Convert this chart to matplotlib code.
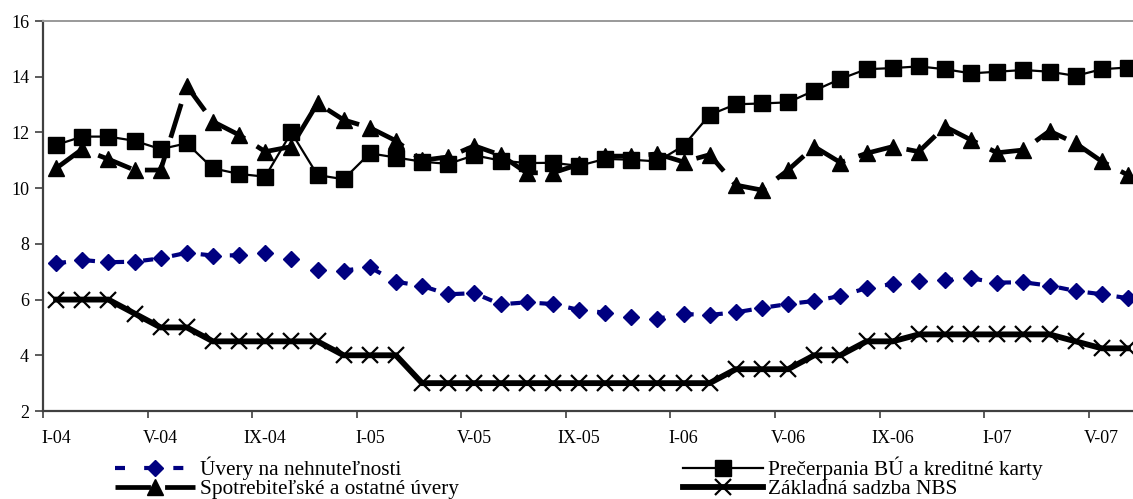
import matplotlib
matplotlib.use("Agg")
import matplotlib.pyplot as plt
from matplotlib.ticker import FixedLocator, NullFormatter, FixedFormatter

# Monthly categories I-04 .. VI-07
roman = ["I", "II", "III", "IV", "V", "VI", "VII", "VIII", "IX", "X", "XI", "XII"]
categories = [f"{roman[m]}-{y:02d}" for y in (4, 5, 6, 7) for m in range(12)][:42]
tick_labels = ["I-04", "V-04", "IX-04", "I-05", "V-05", "IX-05",
               "I-06", "V-06", "IX-06", "I-07", "V-07"]

uvery = [7.30, 7.42, 7.34, 7.36, 7.48, 7.68, 7.58, 7.59, 7.68, 7.46, 7.06, 7.04,
         7.16, 6.64, 6.49, 6.19, 6.23, 5.83, 5.90, 5.84, 5.63, 5.53, 5.36, 5.31,
         5.48, 5.45, 5.54, 5.70, 5.84, 5.95, 6.13, 6.41, 6.56, 6.68, 6.70, 6.76,
         6.61, 6.62, 6.50, 6.31, 6.19, 6.05]
precerpania = [11.55, 11.85, 11.85, 11.70, 11.40, 11.61, 10.71, 10.51, 10.41, 12.00,
               10.47, 10.32, 11.25, 11.10, 10.95, 10.87, 11.18, 10.99, 10.90, 10.91,
               10.80, 11.05, 11.02, 10.96, 11.52, 12.63, 13.01, 13.04, 13.08, 13.50,
               13.92, 14.27, 14.31, 14.37, 14.27, 14.12, 14.18, 14.24, 14.18, 14.03,
               14.27, 14.33]
spotrebitelske = [10.71, 11.40, 11.04, 10.65, 10.65, 13.67, 12.39, 11.91, 11.31, 11.49,
                  13.05, 12.45, 12.17, 11.70, 11.00, 11.12, 11.52, 11.19, 10.55, 10.55,
                  10.85, 11.15, 11.15, 11.23, 10.94, 11.20, 10.11, 9.93, 10.65, 11.49,
                  10.92, 11.25, 11.49, 11.31, 12.21, 11.73, 11.27, 11.37, 12.05, 11.61,
                  10.96, 10.47]
sadzba_nbs = [6, 6, 6, 5.5, 5, 5, 4.5, 4.5, 4.5, 4.5, 4.5, 4, 4, 4, 3, 3, 3, 3, 3, 3,
              3, 3, 3, 3, 3, 3, 3.5, 3.5, 3.5, 4, 4, 4.5, 4.5, 4.75, 4.75, 4.75, 4.75,
              4.75, 4.75, 4.5, 4.25, 4.25]

names = ["Úvery na nehnuteľnosti", "Prečerpania BÚ a kreditné karty",
         "Spotrebiteľské a ostatné úvery", "Základná sadzba NBS"]

plt.rcParams["font.family"] = ["Liberation Serif", "DejaVu Serif"]

W, H = 1133, 499
fig = plt.figure(figsize=(W / 100, H / 100), dpi=100)
ax = fig.add_axes([43 / W, 1 - 411 / H, (1141 - 43) / W, (411 - 21) / H])

x = list(range(len(categories)))

l_uv, = ax.plot(x, uvery, color="#000080", lw=3.0, dashes=(2.4, 4.6),
                marker="D", ms=8, mfc="#000080", mec="#000080", zorder=3)
l_sp, = ax.plot(x, spotrebitelske, color="black", lw=3.4, dashes=(7.5, 3),
                marker="^", ms=12, mfc="black", mec="black", zorder=4)
l_pr, = ax.plot(x, precerpania, color="black", lw=1.6,
                marker="s", ms=11, mfc="black", mec="black", zorder=5)
l_nb, = ax.plot(x, sadzba_nbs, color="black", lw=4.2, solid_joinstyle="miter",
                marker="x", ms=12, mew=1.6, mec="black", zorder=6)

ax.set_xlim(-0.5, len(categories) - 0.5)
ax.set_ylim(2, 16)
ax.set_yticks(range(2, 17, 2))

# major ticks sit between months, labels sit on every fourth month
ax.xaxis.set_major_locator(FixedLocator([i - 0.5 for i in range(0, 41, 4)]))
ax.xaxis.set_major_formatter(NullFormatter())
ax.xaxis.set_minor_locator(FixedLocator(list(range(0, 41, 4))))
ax.xaxis.set_minor_formatter(FixedFormatter(tick_labels))
ax.tick_params(axis="x", which="major", direction="out", length=5, width=1.2,
               color="#404040")
ax.tick_params(axis="x", which="minor", length=0, pad=14, labelsize=13)
ax.tick_params(axis="y", direction="out", length=6, width=1.2, color="#404040",
               pad=4, labelsize=13)

for side in ("left", "bottom"):
    ax.spines[side].set_color("#404040")
    ax.spines[side].set_linewidth(1.6)
ax.spines["top"].set_color("#999999")
ax.spines["top"].set_linewidth(1.4)
ax.spines["right"].set_visible(False)

leg_kw = dict(loc="upper left", frameon=False, fontsize=15.3, borderpad=0,
              borderaxespad=0, handlelength=3.76, handletextpad=0.24,
              labelspacing=-0.05, numpoints=1)
fig.legend([l_uv, l_sp], [names[0], names[2]],
           bbox_to_anchor=(115 / W, 1 - 457 / H), **leg_kw)
fig.legend([l_pr, l_nb], [names[1], names[3]],
           bbox_to_anchor=(683 / W, 1 - 457 / H), **leg_kw)

fig.savefig("out.png", dpi=100)
